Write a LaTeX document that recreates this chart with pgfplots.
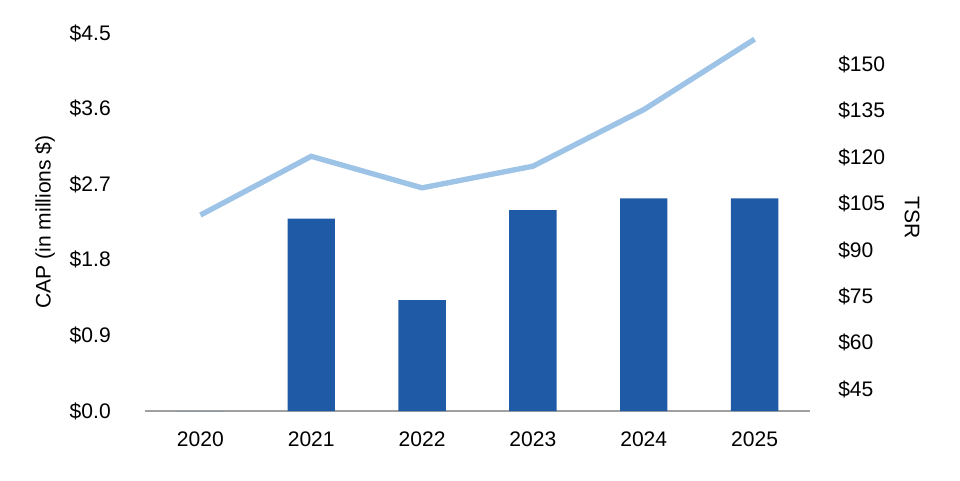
\documentclass[border=0pt]{standalone}
\usepackage{pgfplots}
\pgfplotsset{compat=1.18}
\usepackage{fontspec}
\setmainfont{Liberation Sans}
\definecolor{barblue}{RGB}{31,90,166}
\definecolor{lineblue}{RGB}{157,195,230}
\definecolor{axgrey}{RGB}{160,160,160}
\begin{document}
\fontsize{15.8}{19}\selectfont
\begin{tikzpicture}
\path[use as bounding box] (0,0) rectangle (720pt,360pt);
\begin{axis}[
  at={(108.75pt,51.75pt)}, anchor=south west,
  scale only axis, width=498.75pt, height=283.5pt,
  xmin=-0.5, xmax=5.5, ymin=0, ymax=4.5,
  axis x line*=bottom, axis y line*=left,
  x axis line style={draw=axgrey, line width=1.2pt, -},
  y axis line style={draw=none},
  xtick={0,1,2,3,4,5},
  xticklabels={2020,2021,2022,2023,2024,2025},
  major tick length=0pt,
  xticklabel style={anchor=north, inner sep=0pt, yshift=-15.5pt},
  ytick={0,0.9,1.8,2.7,3.6,4.5},
  yticklabels={\$0.0,\$0.9,\$1.8,\$2.7,\$3.6,\$4.5},
  yticklabel style={anchor=east, inner sep=0pt, xshift=-25.5pt},
  clip=false,
]
\addplot[ybar, bar width=35.6pt, fill=barblue, draw=none] coordinates {
(0,0) (1,2.29) (2,1.32) (3,2.39) (4,2.53) (5,2.53)};
\end{axis}
\node[rotate=90] at (33.75pt,193.5pt) {CAP (in millions \$)};
\node[rotate=-90] at (684pt,197pt) {TSR};
\begin{axis}[
  at={(108.75pt,51.75pt)}, anchor=south west,
  scale only axis, width=498.75pt, height=283.5pt,
  xmin=-0.5, xmax=5.5, ymin=37.9, ymax=160.2,
  axis x line=none, axis y line*=right,
  y axis line style={draw=none},
  major tick length=0pt,
  ytick={45,60,75,90,105,120,135,150},
  yticklabels={\$45,\$60,\$75,\$90,\$105,\$120,\$135,\$150},
  yticklabel style={anchor=west, inner sep=0pt, xshift=21pt},
]
\addplot[lineblue, line width=4pt, mark=none] coordinates {
(0,101.3) (1,120.3) (2,110.1) (3,117.1) (4,135.4) (5,158.2)};
\end{axis}
\end{tikzpicture}
\end{document}
